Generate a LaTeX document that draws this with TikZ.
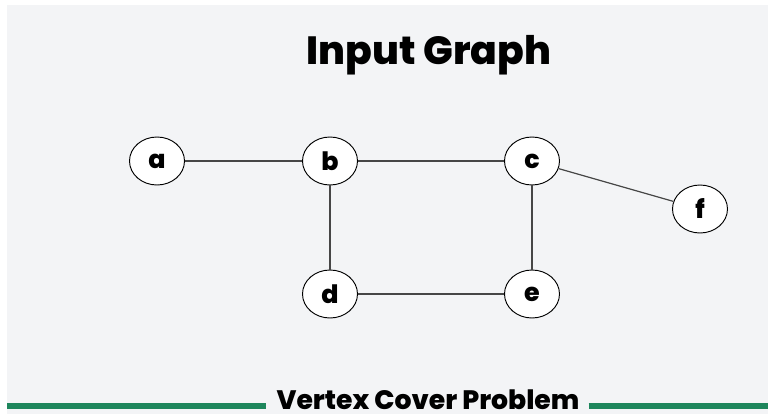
\documentclass[tikz,border=0pt]{standalone}
\usepackage{fontspec}
\setmainfont{Poppins}
\newfontfamily\heavyfont{Poppins}[UprightFont=* ExtraBold]
\usetikzlibrary{shapes.geometric}
\definecolor{bgpanel}{RGB}{243,244,246}
\definecolor{barGreen}{RGB}{30,134,92}
\definecolor{edgeGrey}{RGB}{70,70,70}
\tikzset{
  vertex/.style={ellipse, draw=black, line width=0.7pt, fill=white,
    minimum width=55*0.75pt, minimum height=48*0.75pt, inner sep=0pt,
    font=\heavyfont\fontsize{19}{19}\selectfont},
  link/.style={draw=edgeGrey, line width=0.9pt},
  bar/.style={draw=barGreen, line width=4.5pt}
}
\begin{document}
\begin{tikzpicture}[x=0.75pt, y=-0.75pt]
  % canvas and light panel
  \useasboundingbox (0,0) rectangle (768,414);
  \fill[white] (0,0) rectangle (768,414);
  \fill[bgpanel] (7,5) rectangle (768,414);

  % heading
  \node[font=\heavyfont\fontsize{29.5}{29.5}\selectfont] (title) at (429,55) {Input Graph};

  % vertices
  \node[vertex] (a) at (157,161) {a};
  \node[vertex] (b) at (330,161) {b};
  \node[vertex] (c) at (532,161) {c};
  \node[vertex] (f) at (700,209) {f};
  \node[vertex] (d) at (330,294) {d};
  \node[vertex] (e) at (532,294) {e};

  % edges
  \draw[link] (a) -- (b);
  \draw[link] (b) -- (c);
  \draw[link] (c) -- (f);
  \draw[link] (b) -- (d);
  \draw[link] (c) -- (e);
  \draw[link] (d) -- (e);

  % footer caption with green rule
  \node[font=\heavyfont\fontsize{20}{20}\selectfont, inner sep=0pt, text depth=0pt, anchor=base] (caption) at (428,409.5) {Vertex Cover Problem};
  \coordinate (barL) at (7,406);
  \coordinate (barR) at (768,406);
  \draw[bar] (barL) -- ([xshift=-10*0.75pt]caption.west |- barL);
  \draw[bar] ([xshift=9*0.75pt]caption.east |- barR) -- (barR);
\end{tikzpicture}
\end{document}
